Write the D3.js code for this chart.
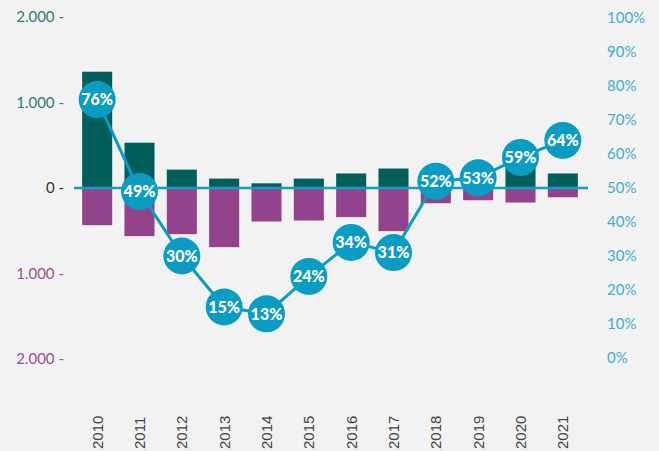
<!DOCTYPE html>
<html>
<head>
<meta charset="utf-8">
<script src="https://cdn.jsdelivr.net/npm/d3@7"></script>
<style>
  body { margin: 0; background: #f2f2f2; }
  svg { display: block; }
</style>
</head>
<body>
<svg id="chart"></svg>
<script>
var years = ["2010","2011","2012","2013","2014","2015","2016","2017","2018","2019","2020","2021"]
var inflows = [1360, 530, 215, 110, 55, 110, 170, 228, 50, 40, 270, 170]
var outflows = [435, 563, 540, 692, 392, 380, 341, 505, 178, 143, 170, 108]
var shares = [76, 49, 30, 15, 13, 24, 34, 31, 52, 53, 59, 64]
var leftTicks = [2000, 1000, 0, -1000, -2000]
var rightTicks = [0, 10, 20, 30, 40, 50, 60, 70, 80, 90, 100]

var dimensions = {
    width: 659,
    height: 451,
    margin: { top: 17, bottom: 93, left: 76, right: 75 }
}

var svg = d3.select("#chart")
            .attr("width", dimensions.width)
            .attr("height", dimensions.height)

svg.append("rect")
   .attr("width", dimensions.width)
   .attr("height", dimensions.height)
   .attr("fill", "#f2f2f2")

var xScale = d3.scaleBand()
               .domain(years)
               .range([dimensions.margin.left, dimensions.width - dimensions.margin.right])
               .paddingInner(0.29)
               .paddingOuter(0.145)

var yScale = d3.scaleLinear()
               .domain([-2000, 2000])
               .range([359, 17])

var pctScale = d3.scaleLinear()
                 .domain([0, 100])
                 .range([358, 18])

var numFmt = d => d3.format(",")(Math.abs(d)).replace(",", ".")

// left axis
var leftAxisGen = d3.axisLeft(yScale)
                    .tickValues(leftTicks)
                    .tickSize(0)
                    .tickPadding(0)
                    .tickFormat(d => numFmt(d) + " -")
var leftAxis = svg.append("g")
                  .attr("transform", "translate(64,0)")
                  .call(leftAxisGen)
leftAxis.select(".domain").remove()
leftAxis.selectAll("text")
        .style("font-family", "Lato, 'Open Sans', sans-serif")
        .style("font-size", "15px")
        .attr("fill", d => d > 0 ? "#2c7c76" : d < 0 ? "#9a4f93" : "#333")

// right axis
var rightAxisGen = d3.axisRight(pctScale)
                     .tickValues(rightTicks)
                     .tickSize(0)
                     .tickPadding(0)
                     .tickFormat(d => d + "%")
var rightAxis = svg.append("g")
                   .attr("transform", "translate(607,0)")
                   .call(rightAxisGen)
rightAxis.select(".domain").remove()
rightAxis.selectAll("text")
         .style("font-family", "Lato, 'Open Sans', sans-serif")
         .style("font-size", "15px")
         .attr("fill", "#3eaed0")

// bars
svg.append("g")
   .selectAll(".pos")
   .data(years)
   .enter()
   .append("rect")
   .attr("class", "pos")
   .attr("x", d => xScale(d))
   .attr("width", xScale.bandwidth())
   .attr("y", (d, i) => yScale(inflows[i]))
   .attr("height", (d, i) => yScale(0) - yScale(inflows[i]))
   .attr("fill", "#005f5b")

svg.append("g")
   .selectAll(".neg")
   .data(years)
   .enter()
   .append("rect")
   .attr("class", "neg")
   .attr("x", d => xScale(d))
   .attr("width", xScale.bandwidth())
   .attr("y", yScale(0))
   .attr("height", (d, i) => yScale(-outflows[i]) - yScale(0))
   .attr("fill", "#92438b")

// zero line
svg.append("line")
   .attr("x1", 74)
   .attr("x2", 588)
   .attr("y1", yScale(0))
   .attr("y2", yScale(0))
   .attr("stroke", "#109fc4")
   .attr("stroke-width", 2.5)

// share line
var lineGen = d3.line()
                .x((d, i) => xScale(years[i]) + xScale.bandwidth() / 2)
                .y(d => pctScale(d))
svg.append("path")
   .datum(shares)
   .attr("d", lineGen)
   .attr("fill", "none")
   .attr("stroke", "#0a9cc2")
   .attr("stroke-width", 3)

var dots = svg.append("g")
              .selectAll(".dot")
              .data(shares)
              .enter()
              .append("g")
              .attr("transform", (d, i) => `translate(${xScale(years[i]) + xScale.bandwidth() / 2},${pctScale(d)})`)
dots.append("circle")
    .attr("r", 18.5)
    .attr("fill", "#0a9cc2")
dots.append("text")
    .text(d => d + "%")
    .attr("text-anchor", "middle")
    .attr("dy", "0.36em")
    .attr("fill", "white")
    .style("font-family", "Lato, 'Open Sans', sans-serif")
    .style("font-weight", "900")
    .style("font-size", "16px")

// year labels
svg.append("g")
   .selectAll(".year")
   .data(years)
   .enter()
   .append("text")
   .attr("class", "year")
   .text(d => d)
   .attr("transform", d => `translate(${xScale(d) + xScale.bandwidth() / 2 + 5.5},449) rotate(-90)`)
   .attr("fill", "#444")
   .style("font-family", "Arial, 'Liberation Sans', sans-serif")
   .style("font-weight", "400")
   .style("font-size", "15px")
</script>
</body>
</html>
